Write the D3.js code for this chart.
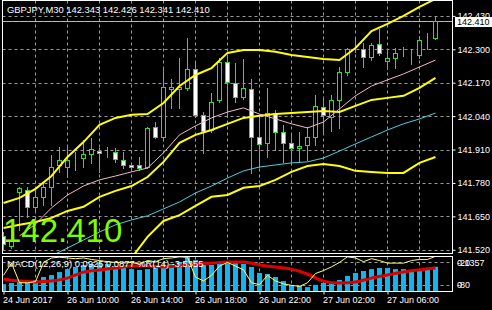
<!DOCTYPE html>
<html>
<head>
<meta charset="utf-8">
<script src="https://cdn.jsdelivr.net/npm/d3@7"></script>
<style>
  html, body { margin: 0; padding: 0; background: #000; }
  svg { display: block; font-family: "Liberation Sans", Arial, sans-serif; }
</style>
</head>
<body>
<svg id="chart"></svg>
<script>
// GBPJPY M30 candles, one per 30 minutes
let open = [141.574,141.535,141.745,141.753,141.687,141.726,141.764,141.850,141.842,141.877,
  141.877,141.893,141.904,141.901,141.901,141.869,141.850,141.850,141.842,141.998,
  141.959,142.146,142.146,142.150,142.223,142.045,141.986,142.103,142.251,142.169,
  142.115,142.146,141.959,141.936,142.052,141.978,141.936,141.916,141.928,141.959,
  142.076,142.037,142.103,142.212,142.301,142.301,142.270,142.321,142.255,142.266,
  142.278,142.278,142.278,142.332,142.343];
let high = [141.589,141.617,141.764,141.764,141.753,141.780,141.889,141.920,141.928,141.901,
  141.947,141.955,141.916,141.920,141.916,141.901,141.858,141.881,141.998,142.017,
  142.231,142.185,142.266,142.344,142.251,142.056,142.130,142.266,142.278,142.247,
  142.262,142.185,142.037,142.150,142.064,142.006,141.967,141.978,141.998,142.122,
  142.115,142.122,142.231,142.305,142.340,142.325,142.325,142.379,142.301,142.305,
  142.309,142.297,142.352,142.364,142.426];
let low = [141.519,141.527,141.597,141.648,141.667,141.694,141.694,141.823,141.803,141.831,
  141.842,141.858,141.823,141.881,141.862,141.838,141.831,141.831,141.838,141.955,
  141.955,142.072,142.072,142.142,142.037,141.897,141.978,142.095,142.037,142.095,
  142.107,141.819,141.842,141.881,141.908,141.862,141.858,141.862,141.869,141.928,
  141.978,141.982,141.994,142.200,142.290,142.231,142.258,142.278,142.223,142.227,
  142.274,142.243,142.266,142.301,142.341];
let close = [141.543,141.558,141.761,141.687,141.726,141.764,141.842,141.869,141.869,141.878,
  141.893,141.912,141.897,141.900,141.873,141.850,141.842,141.838,141.994,141.959,
  142.153,142.153,142.153,142.223,142.045,141.982,142.095,142.251,142.173,142.115,
  142.150,141.959,141.932,142.052,141.978,141.936,141.916,141.924,141.959,142.080,
  142.045,142.103,142.212,142.301,142.300,142.270,142.317,142.286,142.266,142.286,
  142.279,142.278,142.336,142.333,142.410];

// indicator lines, read every second bar (bar 0, 2, 4 ... 54)
let bbUpper = [141.702,141.722,141.757,141.807,141.881,141.939,142.006,142.033,142.045,142.048,
  142.091,142.157,142.200,142.227,142.286,142.297,142.297,142.290,142.278,142.270,
  142.262,142.258,142.305,142.371,142.399,142.430,142.465,142.496];
let bbMiddle = [141.605,141.617,141.628,141.644,141.671,141.687,141.726,141.749,141.768,141.803,
  141.862,141.936,141.967,141.986,142.010,142.033,142.041,142.048,142.052,142.056,
  142.060,142.056,142.080,142.103,142.111,142.119,142.150,142.189];
let bbLower = [null,null,null,null,null,null,null,null,141.488,141.570,
  141.632,141.655,141.691,141.726,141.733,141.761,141.768,141.792,141.823,141.846,
  141.854,141.846,141.827,141.823,141.819,141.819,141.858,141.881];
let maPink = [null,141.574,141.620,141.683,141.733,141.768,141.792,141.807,141.823,141.838,
  141.897,141.967,142.002,142.033,142.056,142.072,142.048,142.029,142.010,141.994,
  142.017,142.068,142.119,142.157,142.181,142.204,142.231,142.258];
let maCyan = [null,null,null,141.496,141.527,141.558,141.589,141.617,141.636,141.652,
  141.679,141.706,141.741,141.768,141.799,141.827,141.842,141.850,141.858,141.862,
  141.877,141.904,141.932,141.959,141.986,142.010,142.029,142.052];

// MACD(12,26,9) histogram per bar, signal every second bar, %R(14) per bar
let macdMain = [0.029,0.033,0.037,0.040,0.044,0.055,0.062,0.073,0.084,0.092,
  0.099,0.103,0.106,0.103,0.095,0.092,0.084,0.081,0.084,0.088,
  0.099,0.103,0.110,0.128,0.117,0.099,0.099,0.110,0.114,0.106,
  0.103,0.092,0.070,0.066,0.055,0.040,0.026,0.022,0.018,0.026,
  0.033,0.033,0.044,0.059,0.070,0.077,0.084,0.088,0.088,0.084,
  0.084,0.081,0.084,0.088,0.0925];
let macdSignal = [0.048,0.040,0.037,0.040,0.051,0.073,0.081,0.088,0.095,0.095,
  0.092,0.095,0.103,0.106,0.110,0.110,0.099,0.092,0.084,0.066,
  0.040,0.033,0.037,0.051,0.062,0.073,0.081,0.0877];
let wpr = [-55,-22,-75,-75,-72,-20,-8,-6,-8,-10,
  -8,-12,-15,-18,-20,-22,-20,-25,-15,-18,
  -10,-8,-5,-6,-60,-70,-55,-30,-20,-30,
  -40,-75,-80,-55,-70,-78,-82,-85,-75,-50,
  -42,-32,-20,-5,-8,-18,-10,-15,-22,-22,
  -22,-15,-12,-12,-3.5355];

let timeTicks = [0, 8, 16, 24, 32, 40, 48];
let timeLabels = ["24 Jun 2017", "26 Jun 10:00", "26 Jun 14:00", "26 Jun 18:00",
  "26 Jun 22:00", "27 Jun 02:00", "27 Jun 06:00"];
let priceTicks = [141.520, 141.650, 141.780, 141.910, 142.040, 142.170, 142.300, 142.430];

let width = 492, height = 310;
let left = 2.5, right = 452.5, mainTop = 0.5, mainBottom = 253.5, subTop = 256.5, subBottom = 291.5;

let svg = d3.select("#chart").attr("width", width).attr("height", height);
svg.append("rect").attr("width", width).attr("height", height).attr("fill", "#000");

let x = d3.scaleLinear().domain([0, 54]).range([3.5, 435.5]);
let y = d3.scaleLinear().domain([141.5074, 142.4918]).range([253, 0]);
let yMacd = d3.scaleLinear().domain([0, 0.1357]).range([292, 255]);
let yWpr = d3.scaleLinear().domain([-100, 0]).range([292, 255]);

let defs = svg.append("defs");
defs.append("clipPath").attr("id", "clipMain").append("rect")
  .attr("x", left).attr("y", mainTop).attr("width", right - left).attr("height", mainBottom - mainTop);
defs.append("clipPath").attr("id", "clipSub").append("rect")
  .attr("x", left).attr("y", subTop).attr("width", right - left).attr("height", subBottom - subTop);

let gridColor = "#9a9a9a";
let idx = d3.range(0, 55);
let idx2 = d3.range(0, 55, 2);

// grid
let grid = svg.append("g").attr("stroke", gridColor).attr("stroke-dasharray", "3,3").attr("stroke-width", 1);
priceTicks.forEach(p => {
  let yy = Math.round(y(p)) + 0.5;
  grid.append("line").attr("x1", left).attr("x2", right).attr("y1", yy).attr("y2", yy);
});
d3.range(4, 55, 4).forEach(i => {
  grid.append("line").attr("x1", x(i)).attr("x2", x(i)).attr("y1", mainTop).attr("y2", mainBottom);
  grid.append("line").attr("x1", x(i)).attr("x2", x(i)).attr("y1", subTop).attr("y2", subBottom);
});
[-20, -80].forEach(v => {
  let yy = Math.round(yWpr(v)) + 0.5;
  grid.append("line").attr("x1", left).attr("x2", right).attr("y1", yy).attr("y2", yy);
});

let main = svg.append("g").attr("clip-path", "url(#clipMain)");

// bid line
let bidY = Math.round(y(close[54])) + 0.5;
main.append("line").attr("x1", left).attr("x2", right).attr("y1", bidY).attr("y2", bidY)
  .attr("stroke", "#b8b8b8").attr("stroke-width", 1);

// candles
let candleColor = "#2ee02e";
let candle = main.selectAll(".candle").data(idx).enter().append("g");
candle.append("line")
  .attr("x1", i => x(i)).attr("x2", i => x(i))
  .attr("y1", i => Math.round(y(high[i]))).attr("y2", i => Math.round(y(low[i])) + 1)
  .attr("stroke", candleColor);
candle.append("rect")
  .attr("x", i => x(i) - 2)
  .attr("y", i => Math.round(y(Math.max(open[i], close[i]))) + 0.5)
  .attr("width", 4)
  .attr("height", i => Math.max(0, Math.round(y(Math.min(open[i], close[i]))) - Math.round(y(Math.max(open[i], close[i])))))
  .attr("fill", i => close[i] >= open[i] ? "#000" : "#fff")
  .attr("stroke", candleColor);

// bands and moving averages
let line2 = d3.line().defined(d => d != null).x((d, k) => x(idx2[k])).y(d => y(d));
[[bbUpper, "#ffff00", 2], [bbMiddle, "#ffff00", 2], [bbLower, "#ffff00", 2],
 [maPink, "#f0b8c8", 1], [maCyan, "#48d0e0", 1]].forEach(([arr, col, w]) => {
  main.append("path").datum(arr).attr("d", line2)
    .attr("fill", "none").attr("stroke", col).attr("stroke-width", w);
});

// big price
svg.append("text").attr("x", 3).attr("y", 242).attr("font-size", 33)
  .attr("fill", "#7cfc00").text(close[54].toFixed(3));

// MACD sub window
let sub = svg.append("g").attr("clip-path", "url(#clipSub)");
sub.selectAll(".hist").data(idx).enter().append("rect")
  .attr("x", i => x(i) - 2.5).attr("width", 5)
  .attr("y", i => yMacd(macdMain[i])).attr("height", i => yMacd(0) - yMacd(macdMain[i]))
  .attr("fill", "#14b4f0");
sub.append("path").datum(macdSignal)
  .attr("d", d3.line().x((d, k) => x(idx2[k])).y(d => yMacd(d)).curve(d3.curveMonotoneX))
  .attr("fill", "none").attr("stroke", "#dd0000").attr("stroke-width", 3);
sub.append("path").datum(wpr)
  .attr("d", d3.line().x((d, k) => x(k)).y(d => yWpr(d)))
  .attr("fill", "none").attr("stroke", "#ffff66").attr("stroke-width", 1);

svg.append("text").attr("x", 7).attr("y", 267).attr("font-size", 9.4).attr("fill", "#fff")
  .text("MACD(12,26,9) 0.0925 0.0877  %R(14) -3.5355");

// frame
let frame = svg.append("g").attr("stroke", "#fff").attr("fill", "none").attr("stroke-width", 1);
frame.append("rect").attr("x", left).attr("y", mainTop).attr("width", right - left).attr("height", mainBottom - mainTop);
frame.append("rect").attr("x", left).attr("y", subTop).attr("width", right - left).attr("height", subBottom - subTop);

// right price axis
let axisR = d3.axisRight(y).tickValues(priceTicks).tickSize(3).tickFormat(d3.format(".3f"));
let gR = svg.append("g").attr("transform", "translate(" + right + ",0)").call(axisR);
gR.select(".domain").remove();
gR.selectAll("line").attr("stroke", "#fff");
gR.selectAll("text").attr("fill", "#fff").attr("font-size", 9).attr("x", 5)
  .attr("font-family", "Liberation Sans, Arial, sans-serif");

// bid label
svg.append("rect").attr("x", 455).attr("y", bidY - 4.5).attr("width", 37).attr("height", 10).attr("fill", "#fff");
svg.append("text").attr("x", 457).attr("y", bidY + 3.5).attr("font-size", 9).attr("fill", "#000")
  .text(close[54].toFixed(3));

// sub window labels (MACD max and %R levels share the scale)
let subLab = svg.append("g").attr("fill", "#fff").attr("font-size", 9);
subLab.append("text").attr("x", 457).attr("y", yWpr(-20) + 3.5).text("0.1357");
subLab.append("text").attr("x", 457).attr("y", yWpr(-20) + 3.5).text("-20");
subLab.append("text").attr("x", 457).attr("y", yWpr(-80) + 3.5).text("-80");
subLab.append("text").attr("x", 457).attr("y", yWpr(-80) + 3.5).text("0");

// time axis
let axisB = d3.axisBottom(x).tickValues(timeTicks).tickSize(3).tickFormat((d, k) => timeLabels[k]);
let gB = svg.append("g").attr("transform", "translate(0," + subBottom + ")").call(axisB);
gB.select(".domain").remove();
gB.selectAll("line").attr("stroke", "#fff");
gB.selectAll("text").attr("fill", "#fff").attr("font-size", 9).attr("text-anchor", "start")
  .attr("x", -1).attr("y", 5).attr("dy", "0.71em")
  .attr("font-family", "Liberation Sans, Arial, sans-serif");

// title
svg.append("text").attr("x", 7).attr("y", 13).attr("font-size", 9.4).attr("fill", "#fff")
  .text("GBPJPY,M30  " + [open[54], high[54], low[54], close[54]].map(d => d.toFixed(3)).join(" "));
</script>
</body>
</html>
